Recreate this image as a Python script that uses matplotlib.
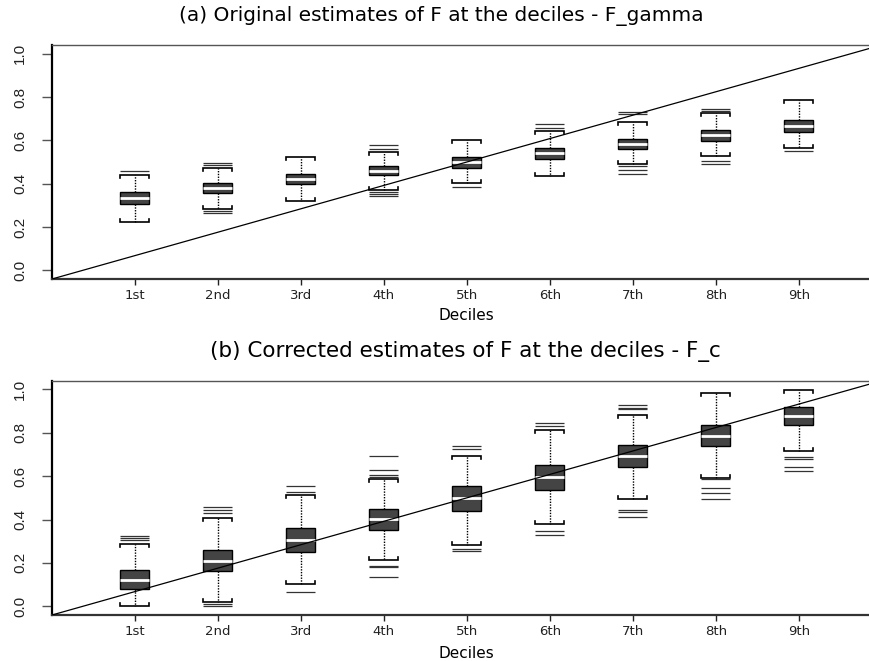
import matplotlib
matplotlib.use('Agg')
import matplotlib.pyplot as plt
import numpy as np

labels = ['1st', '2nd', '3rd', '4th', '5th', '6th', '7th', '8th', '9th']
yticks = [0.0, 0.2, 0.4, 0.6, 0.8, 1.0]
ytick_labels = ['0.0', '0.2', '0.4', '0.6', '0.8', '1.0']

# Panel (a): original estimates
a_lo = [0.225, 0.283, 0.318, 0.372, 0.403, 0.436, 0.492, 0.529, 0.565]
a_q1 = [0.308, 0.355, 0.397, 0.439, 0.474, 0.514, 0.558, 0.597, 0.639]
a_med = [0.335, 0.380, 0.422, 0.460, 0.500, 0.542, 0.583, 0.623, 0.668]
a_q3 = [0.362, 0.405, 0.445, 0.483, 0.523, 0.566, 0.606, 0.649, 0.695]
a_hi = [0.438, 0.473, 0.523, 0.545, 0.600, 0.642, 0.686, 0.726, 0.785]
a_out = [[0.457], [0.494, 0.485, 0.272, 0.265], [], [0.577, 0.560, 0.362, 0.354, 0.345],
         [0.385], [0.677, 0.657], [0.729, 0.720, 0.480, 0.461, 0.443],
         [0.745, 0.734, 0.503, 0.491], [0.552]]

# Panel (b): corrected estimates
b_lo = [0.001, 0.020, 0.101, 0.212, 0.283, 0.378, 0.493, 0.590, 0.714]
b_q1 = [0.080, 0.163, 0.252, 0.353, 0.441, 0.535, 0.641, 0.739, 0.834]
b_med = [0.123, 0.211, 0.307, 0.401, 0.501, 0.594, 0.694, 0.785, 0.878]
b_q3 = [0.166, 0.261, 0.363, 0.450, 0.553, 0.651, 0.745, 0.838, 0.917]
b_hi = [0.289, 0.407, 0.513, 0.585, 0.691, 0.811, 0.883, 0.985, 0.995]
b_out = [[0.323, 0.313, 0.304], [0.456, 0.442, 0.429, 0.009, 0.003], [0.556, 0.529, 0.068],
         [0.691, 0.630, 0.604, 0.598, 0.187, 0.180, 0.135], [0.737, 0.724, 0.264, 0.255],
         [0.845, 0.829, 0.346, 0.327], [0.928, 0.912, 0.909, 0.446, 0.436, 0.412],
         [0.585, 0.545, 0.522, 0.496], [0.687, 0.679, 0.644, 0.622]]

W, H = 869, 661
fig = plt.figure(figsize=(W / 100, H / 100), dpi=100)


def px_axes(left, top, right, bottom):
    return [left / W, 1 - bottom / H, (right - left) / W, (bottom - top) / H]


def draw(ax, lo, q1, med, q3, hi, outs):
    pos = np.arange(1, len(labels) + 1)
    w = 0.35
    stats = [dict(whislo=lo[i], q1=q1[i], med=med[i], q3=q3[i], whishi=hi[i], fliers=[])
             for i in range(len(labels))]
    ax.bxp(stats, positions=pos, widths=w, patch_artist=True, showcaps=False,
           showfliers=False,
           boxprops=dict(facecolor='#444444', edgecolor='black', linewidth=1.0),
           medianprops=dict(color='white', linewidth=2.0),
           whiskerprops=dict(color='black', linestyle=(0, (1, 1)), linewidth=1.0))
    d = 0.014
    for i, p in enumerate(pos):
        ax.plot([p - w / 2, p - w / 2, p + w / 2, p + w / 2],
                [hi[i] - d, hi[i], hi[i], hi[i] - d], color='black', lw=1.2,
                solid_joinstyle='miter')
        ax.plot([p - w / 2, p - w / 2, p + w / 2, p + w / 2],
                [lo[i] + d, lo[i], lo[i], lo[i] + d], color='black', lw=1.2,
                solid_joinstyle='miter')
        if outs[i]:
            ax.hlines(outs[i], p - w / 2, p + w / 2, color='#333333', lw=0.9)
    ax.plot([0, 1], [0, 1], transform=ax.transAxes, color='black', lw=0.9, zorder=10)
    ax.set_xlim(0, 10)
    ax.set_ylim(-0.04, 1.04)
    ax.set_xticks(pos)
    ax.set_xticklabels(labels, fontfamily='DejaVu Sans', fontsize=9.5)
    ax.set_yticks(yticks)
    ax.set_yticklabels(ytick_labels, fontfamily=['Liberation Sans Narrow', 'Liberation Sans'],
                       fontsize=11, rotation=90, va='center')
    ax.tick_params(axis='x', length=4, width=1, pad=3, colors='#222222')
    ax.tick_params(axis='y', length=7, width=1, pad=11, colors='#555555', labelcolor='#222222')
    ax.spines['right'].set_visible(False)
    ax.spines['top'].set_color('#555555')
    ax.spines['top'].set_linewidth(1.0)
    ax.spines['left'].set_color('black')
    ax.spines['left'].set_linewidth(1.6)
    ax.spines['bottom'].set_color('#333333')
    ax.spines['bottom'].set_linewidth(1.6)


ax1 = fig.add_axes(px_axes(52, 45, 881.7, 279))
draw(ax1, a_lo, a_q1, a_med, a_q3, a_hi, a_out)
ax2 = fig.add_axes(px_axes(52, 380.7, 881.7, 615))
draw(ax2, b_lo, b_q1, b_med, b_q3, b_hi, b_out)

fig.text(441 / W, 1 - 16 / H, '(a) Original estimates of F at the deciles - F_gamma',
         ha='center', va='center', fontsize=14.5, fontfamily='DejaVu Sans')
fig.text(465 / W, 1 - 351 / H, '(b) Corrected estimates of F at the deciles - F_c',
         ha='center', va='center', fontsize=15.5, fontfamily='DejaVu Sans')
fig.text(466 / W, 1 - 316 / H, 'Deciles', ha='center', va='center', fontsize=11,
         fontfamily='DejaVu Sans')
fig.text(466 / W, 1 - 653 / H, 'Deciles', ha='center', va='center', fontsize=11,
         fontfamily='DejaVu Sans')

fig.savefig('out.png', dpi=100)
